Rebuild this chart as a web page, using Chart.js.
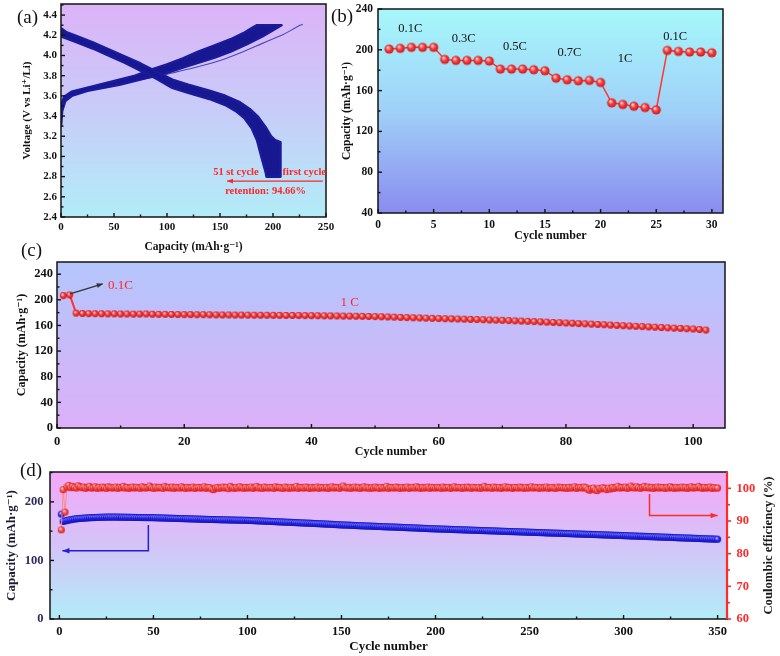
<!DOCTYPE html>
<html><head><meta charset="utf-8">
<script src="https://cdn.jsdelivr.net/npm/chart.js@4.4.0/dist/chart.umd.min.js"></script>
<style>
html,body{margin:0;padding:0;background:#fff;}
body{width:780px;height:656px;position:relative;overflow:hidden;}
canvas{position:absolute;}
.lbl{position:absolute;font-family:"Liberation Serif","Times New Roman",serif;font-size:19px;color:#111;line-height:1;}
</style></head><body>
<canvas id="ca" width="340" height="256" style="left:0;top:0"></canvas>
<canvas id="cb" width="450" height="256" style="left:330px;top:0"></canvas>
<canvas id="cc" width="780" height="206" style="left:0;top:256px"></canvas>
<canvas id="cd" width="780" height="194" style="left:0;top:462px"></canvas>
<div class="lbl" style="left:17px;top:7px">(a)</div>
<div class="lbl" style="left:331px;top:6px">(b)</div>
<div class="lbl" style="left:21px;top:240px">(c)</div>
<div class="lbl" style="left:20px;top:460px">(d)</div>
<script>
// ---------------- DATA ----------------
// (a) charge/discharge profiles: [capacity mAh/g, voltage V]
const dischargeFirstEdge = [[0,4.27],[5,4.23],[15,4.19],[30,4.13],[45,4.06],[60,3.99],[75,3.92],[90,3.84],[105,3.76],[120,3.71],[140,3.65],[155,3.60],[168,3.54],[178,3.47],[186,3.39],[193,3.29],[198,3.20],[202,3.16],[207,3.14],[207,2.80]];
const discharge51Edge = [[0,4.19],[5,4.17],[15,4.13],[30,4.07],[45,4.00],[60,3.93],[75,3.85],[90,3.77],[105,3.68],[120,3.63],[140,3.57],[155,3.51],[165,3.45],[173,3.38],[180,3.28],[185,3.16],[189,3.00],[193,2.85],[194,2.80]];
const chargeUpperEdge = [[0,3.42],[1,3.53],[3,3.59],[10,3.64],[25,3.68],[40,3.72],[55,3.76],[70,3.80],[85,3.86],[100,3.91],[115,3.97],[130,4.04],[145,4.10],[160,4.16],[172,4.22],[180,4.27],[185,4.30],[208,4.30]];
const chargeLowerEdge = [[0,3.30],[1,3.45],[4,3.55],[10,3.60],[25,3.65],[40,3.68],[55,3.71],[70,3.75],[85,3.79],[100,3.83],[115,3.88],[130,3.93],[145,3.98],[160,4.04],[175,4.11],[190,4.19],[200,4.25],[208,4.30]];
const chargeFirstCycle = [[0,3.30],[2,3.50],[5,3.57],[15,3.62],[30,3.66],[50,3.70],[70,3.75],[90,3.79],[110,3.84],[130,3.89],[150,3.95],[170,4.03],[190,4.12],[210,4.21],[222,4.28],[228,4.31]];
const aXTicks = [0,50,100,150,200,250];
const aYTicks = [2.4,2.6,2.8,3.0,3.2,3.4,3.6,3.8,4.0,4.2,4.4];

// (b) rate capability
const rateCycles = [1,2,3,4,5,6,7,8,9,10,11,12,13,14,15,16,17,18,19,20,21,22,23,24,25,26,27,28,29,30];
const rateCapacity = [200.7,201.4,202.4,202.4,202.4,190.6,189.6,189.6,189.6,189.0,181.1,181.1,181.1,180.4,179.4,172.2,170.6,169.6,170.0,168.0,148.0,146.4,144.7,143.4,141.1,199.4,198.4,197.8,197.8,197.1];
const rateLabels = ['0.1C','0.3C','0.5C','0.7C','1C','0.1C'];
const bXTicks = [0,5,10,15,20,25,30];
const bYTicks = [40,80,120,160,200,240];

// (c) cycling at 1C (102 cycles)
const cCapacity = [206.6,207.6,179.2,178.6,178.4,178.3,178.2,178.0,178.1,177.8,
177.8,177.6,177.7,177.9,177.4,177.3,177.3,177.1,177.0,176.9,
176.9,176.7,176.8,176.6,176.5,176.4,176.4,176.2,176.2,176.1,
176.0,175.9,175.9,175.8,175.7,175.6,175.6,175.5,175.4,175.3,
175.2,175.0,174.9,174.8,174.6,174.5,174.3,174.2,174.0,173.8,
173.5,173.2,172.9,172.6,172.3,172.0,171.7,171.4,171.1,170.8,
170.5,170.3,170.0,169.7,169.4,169.2,168.9,168.6,168.3,168.0,
167.6,167.2,166.8,166.4,166.0,165.6,165.1,164.7,164.3,163.8,
163.4,162.9,162.5,162.0,161.5,161.1,160.6,160.1,159.6,159.1,
158.6,158.2,157.7,157.2,156.8,156.3,155.8,155.4,154.9,154.4,
153.6,152.8];
const cCycles = Array.from({length: cCapacity.length}, (_, i) => i + 1);
const cXTicks = [0,20,40,60,80,100];
const cYTicks = [0,40,80,120,160,200,240];

// (d) long cycling, 350 cycles
const dCapacity = [179.0,166.5,167.5,168.2,169.0,169.6,170.2,170.7,171.1,171.5,
171.8,172.0,172.2,172.5,172.7,172.9,173.1,173.2,173.4,173.5,
173.6,173.7,173.8,173.9,174.0,174.0,174.1,174.0,174.1,174.0,
174.0,173.9,173.9,173.8,173.8,173.7,173.7,173.6,173.6,173.5,
173.5,173.4,173.4,173.3,173.3,173.2,173.2,173.1,173.1,173.0,
172.9,172.8,172.7,172.6,172.5,172.4,172.3,172.2,172.1,172.0,
171.9,171.8,171.7,171.6,171.5,171.4,171.3,171.2,171.1,171.0,
170.9,170.8,170.7,170.6,170.5,170.4,170.3,170.2,170.1,170.0,
169.9,169.8,169.8,169.7,169.6,169.5,169.4,169.4,169.3,169.2,
169.1,169.0,169.0,168.9,168.8,168.8,168.7,168.6,168.6,168.5,
168.3,168.2,168.0,167.9,167.7,167.6,167.4,167.3,167.1,167.0,
166.8,166.7,166.5,166.4,166.2,166.1,165.9,165.8,165.6,165.5,
165.3,165.2,165.0,164.9,164.7,164.6,164.4,164.3,164.1,164.0,
163.8,163.7,163.5,163.4,163.2,163.1,162.9,162.8,162.6,162.5,
162.3,162.1,161.9,161.8,161.6,161.4,161.2,161.1,160.9,160.7,
160.6,160.4,160.3,160.2,160.0,159.9,159.7,159.6,159.4,159.3,
159.2,159.0,158.9,158.8,158.6,158.5,158.4,158.3,158.1,158.0,
157.9,157.7,157.6,157.5,157.3,157.2,157.1,157.0,156.8,156.7,
156.6,156.4,156.3,156.2,156.0,155.9,155.8,155.6,155.5,155.3,
155.2,155.0,154.9,154.8,154.6,154.5,154.3,154.2,154.0,153.9,
153.8,153.7,153.6,153.5,153.4,153.3,153.2,153.0,152.9,152.8,
152.7,152.6,152.5,152.3,152.2,152.1,152.0,151.9,151.7,151.6,
151.5,151.4,151.3,151.2,151.1,151.0,150.9,150.7,150.6,150.5,
150.4,150.3,150.2,150.0,149.9,149.8,149.7,149.6,149.4,149.3,
149.2,149.1,149.0,148.9,148.8,148.7,148.6,148.4,148.3,148.2,
148.1,148.0,147.9,147.7,147.6,147.5,147.4,147.3,147.1,147.0,
146.9,146.8,146.7,146.6,146.5,146.4,146.3,146.1,146.0,145.9,
145.8,145.7,145.6,145.4,145.3,145.2,145.1,145.0,144.8,144.7,
144.6,144.5,144.4,144.3,144.2,144.1,144.0,143.8,143.7,143.6,
143.5,143.4,143.3,143.1,143.0,142.9,142.8,142.7,142.5,142.4,
142.3,142.2,142.0,141.9,141.8,141.7,141.6,141.4,141.3,141.2,
141.1,141.0,140.8,140.7,140.6,140.5,140.4,140.2,140.1,140.0,
139.9,139.7,139.6,139.5,139.4,139.2,139.1,139.0,138.8,138.7,
138.6,138.5,138.3,138.2,138.1,138.0,137.8,137.7,137.6,137.5,
137.4,137.2,137.1,137.0,136.9,136.7,136.6,136.5,136.3,136.2];
const dEfficiency = [87.3,99.6,92.7,100.4,100.9,100.2,100.6,100.3,100.1,100.8,
100.5,100.2,100.4,100.0,100.3,100.6,100.1,100.2,100.5,100.0,
100.3,100.1,100.4,100.2,100.0,100.5,100.3,100.1,100.2,100.4,
100.0,100.3,100.2,100.6,100.1,100.3,100.0,100.2,100.4,100.1,
100.3,100.2,100.0,100.5,100.2,100.1,100.3,100.7,100.2,100.0,
100.4,100.1,100.3,100.2,100.0,100.6,100.2,100.3,100.1,100.4,
100.0,100.3,100.2,100.1,100.5,100.2,100.0,100.3,100.1,100.2,
100.4,100.0,100.2,100.3,100.1,100.2,100.5,100.0,100.3,100.2,
99.8,99.6,100.1,100.3,100.0,100.2,100.4,100.1,100.3,99.9,
100.6,100.2,100.0,100.3,100.1,100.5,100.2,100.0,100.3,100.1,
100.2,100.4,100.0,100.3,100.6,100.1,100.2,100.0,100.4,100.2,
100.1,100.3,100.2,100.0,100.5,100.2,100.3,100.1,100.0,100.4,
100.2,100.0,100.3,100.1,100.2,100.6,100.0,100.3,100.2,100.1,
100.4,100.2,100.0,100.3,100.1,100.2,100.4,100.0,100.3,100.2,
100.1,100.3,100.0,100.2,100.5,100.1,100.3,100.2,100.0,100.4,
100.7,100.2,100.1,100.3,100.0,100.2,100.4,100.1,100.3,100.0,
100.2,100.5,100.1,100.3,100.0,100.2,100.1,100.4,100.2,100.0,
100.3,100.1,100.2,100.6,100.0,100.3,100.2,100.1,100.4,100.2,
100.0,100.3,100.1,100.2,100.4,100.0,100.2,100.3,100.1,100.5,
100.2,100.0,100.3,100.1,100.2,100.4,100.0,100.3,100.2,100.1,
100.3,100.2,100.0,100.4,100.1,100.2,100.3,100.0,100.2,100.5,
100.1,100.3,100.2,100.0,100.3,100.1,100.4,100.2,100.0,100.3,
100.2,100.1,100.3,100.0,100.2,100.6,100.1,100.3,100.2,100.0,
100.4,100.2,100.1,100.3,100.0,100.2,100.5,100.1,100.3,100.2,
100.0,100.3,100.2,100.1,100.4,100.2,100.0,100.3,100.1,100.2,
100.5,100.1,100.3,100.2,100.0,100.3,100.1,100.2,100.4,100.0,
100.2,100.3,100.1,100.0,100.4,100.2,100.3,100.1,100.2,100.0,
100.3,100.1,100.2,100.5,100.0,100.2,100.3,100.1,100.4,100.2,
99.7,99.4,99.9,100.1,99.5,99.3,100.0,99.8,100.2,100.0,
99.6,100.1,99.8,100.3,100.0,100.2,100.6,100.1,100.3,100.2,
100.4,100.0,100.2,100.7,100.3,100.1,100.5,100.2,100.0,100.3,
100.6,100.2,100.4,100.1,100.3,100.0,100.2,100.4,100.1,100.3,
100.2,100.0,100.3,100.1,100.5,100.2,100.0,100.3,100.1,100.2,
100.4,100.1,100.3,100.0,100.2,100.5,100.1,100.3,100.2,100.6,
100.2,100.0,100.3,100.1,100.2,100.4,100.0,100.2,100.1,100.1];
const dCycles = Array.from({length: dCapacity.length}, (_, i) => i + 1);
const dXTicks = [0,50,100,150,200,250,300,350];
const dYTicks = [0,100,200];
const dY2Ticks = [60,70,80,90,100];

// ---------------- RENDERING ----------------
const SERIF = '"Liberation Serif","Times New Roman","DejaVu Serif",serif';
Chart.defaults.font.family = SERIF;
Chart.defaults.animation = false;

const xy = arr => arr.map(p => ({x: p[0], y: p[1]}));
const zipXY = (xs, ys) => xs.map((x, i) => ({x, y: ys[i]}));

function ball(r, c0, c1, c2) {
  const s = Math.ceil(r * 2 + 2);
  const cv = document.createElement('canvas');
  cv.width = s; cv.height = s;
  const g = cv.getContext('2d');
  const c = s / 2;
  const gr = g.createRadialGradient(c - r * 0.35, c - r * 0.4, r * 0.05, c, c, r);
  gr.addColorStop(0, c0); gr.addColorStop(0.45, c1); gr.addColorStop(1, c2);
  g.fillStyle = gr; g.beginPath(); g.arc(c, c, r, 0, Math.PI * 2); g.fill();
  return cv;
}

function scaleCfg(o) {
  return {
    type: 'linear', min: o.min, max: o.max, position: o.position,
    grid: {display: false, drawTicks: false},
    border: {display: false},
    afterBuildTicks: s => { s.ticks = o.ticks.map(v => ({value: v})); },
    ticks: {
      autoSkip: false, maxRotation: 0, padding: o.tpad,
      font: {family: SERIF, weight: 'bold', size: o.tsize},
      color: o.tcolor || '#111',
      callback: o.fmt || (v => String(v))
    },
    title: o.title ? {
      display: true, text: o.title,
      font: {family: SERIF, weight: 'bold', size: o.titleSize},
      color: o.titleColor || '#111',
      padding: o.titlePad
    } : {display: false},
    afterFit: s => {
      if (s.isHorizontal()) s.height = o.size; else s.width = o.size;
      s.paddingLeft = s.paddingRight = s.paddingTop = s.paddingBottom = 0;
    }
  };
}

function drawAxisTicks(ctx, scale, t, a) {
  const vals = t.majors;
  const minors = [];
  for (let i = 0; i < vals.length - 1; i++) minors.push((vals[i] + vals[i + 1]) / 2);
  const step = vals[1] - vals[0];
  if (vals[vals.length - 1] + step / 2 < scale.max) minors.push(vals[vals.length - 1] + step / 2);
  ctx.save();
  ctx.strokeStyle = t.color || '#111';
  ctx.lineWidth = t.width || 1.4;
  const mk = (v, len) => {
    const p = scale.getPixelForValue(v);
    ctx.beginPath();
    if (t.side === 'bottom') { ctx.moveTo(p, a.bottom); ctx.lineTo(p, a.bottom - len); }
    else if (t.side === 'left') { ctx.moveTo(a.left, p); ctx.lineTo(a.left + len, p); }
    else if (t.side === 'right') { ctx.moveTo(a.right, p); ctx.lineTo(a.right + len, p); }
    ctx.stroke();
  };
  vals.forEach(v => mk(v, t.len || 4));
  minors.forEach(v => mk(v, t.minorLen || 2.5));
  ctx.restore();
}

function arrow(ctx, pts, color, w, head) {
  ctx.save();
  ctx.strokeStyle = color; ctx.fillStyle = color; ctx.lineWidth = w;
  ctx.beginPath();
  ctx.moveTo(pts[0][0], pts[0][1]);
  for (let i = 1; i < pts.length; i++) ctx.lineTo(pts[i][0], pts[i][1]);
  ctx.stroke();
  const [x1, y1] = pts[pts.length - 2], [x2, y2] = pts[pts.length - 1];
  const ang = Math.atan2(y2 - y1, x2 - x1);
  ctx.beginPath();
  ctx.moveTo(x2, y2);
  ctx.lineTo(x2 - head * Math.cos(ang) + head * 0.4 * Math.sin(ang), y2 - head * Math.sin(ang) - head * 0.4 * Math.cos(ang));
  ctx.lineTo(x2 - head * Math.cos(ang) - head * 0.4 * Math.sin(ang), y2 - head * Math.sin(ang) + head * 0.4 * Math.cos(ang));
  ctx.closePath(); ctx.fill();
  ctx.restore();
}

function panelPlugin(cfg) {
  return {
    id: 'panel' + cfg.name,
    beforeDatasetsDraw(chart) {
      const {ctx, chartArea: a} = chart;
      const g = ctx.createLinearGradient(0, a.top, 0, a.bottom);
      cfg.bg.forEach(([o, c]) => g.addColorStop(o, c));
      ctx.save(); ctx.fillStyle = g;
      ctx.fillRect(a.left, a.top, a.right - a.left, a.bottom - a.top);
      ctx.restore();
    },
    afterDatasetsDraw(chart) {
      const {ctx, chartArea: a} = chart;
      cfg.ticks.forEach(t => drawAxisTicks(ctx, chart.scales[t.id], t, a));
      ctx.save();
      ctx.lineWidth = 1.5; ctx.strokeStyle = '#151515';
      ctx.strokeRect(a.left, a.top, a.right - a.left, a.bottom - a.top);
      ctx.restore();
      if (cfg.extra) cfg.extra(chart, ctx, a);
    }
  };
}

const baseOpts = (padding, scales) => ({
  responsive: false, animation: false, events: [],
  layout: {padding},
  plugins: {legend: {display: false}, tooltip: {enabled: false}},
  scales
});

// ---------- (a) ----------
const bandColor = '#17178f';
new Chart(document.getElementById('ca'), {
  type: 'line',
  data: {datasets: [
    {data: xy(dischargeFirstEdge.concat(discharge51Edge.slice().reverse())), fill: 'shape', backgroundColor: bandColor, borderColor: '#1a1a9c', borderWidth: 2.6, borderJoinStyle: 'round', pointRadius: 0, tension: 0},
    {data: xy(chargeUpperEdge.concat(chargeLowerEdge.slice().reverse())), fill: 'shape', backgroundColor: bandColor, borderColor: '#1a1a9c', borderWidth: 2.6, borderJoinStyle: 'round', pointRadius: 0, tension: 0},
    {data: xy(chargeFirstCycle), fill: false, borderColor: '#4646c4', borderWidth: 1.1, pointRadius: 0, tension: 0.3}
  ]},
  options: baseOpts({left: 0, top: 4, right: 14, bottom: 0}, {
    x: scaleCfg({min: 0, max: 250, position: 'bottom', ticks: aXTicks, tpad: 4, tsize: 11, size: 39,
      title: 'Capacity (mAh\u00b7g\u207b\u00b9)', titleSize: 11.5, titlePad: {top: 0, bottom: 2}}),
    y: scaleCfg({min: 2.4, max: 4.51, position: 'left', ticks: aYTicks, tpad: 4, tsize: 11, size: 61,
      fmt: v => v.toFixed(1),
      title: 'Voltage (V vs Li\u207a/Li)', titleSize: 11, titlePad: {top: 21, bottom: 0}})
  }),
  plugins: [panelPlugin({
    name: 'a',
    bg: [[0, '#dcb3f8'], [0.5, '#c8ccf8'], [1, '#b2ecf8']],
    ticks: [{id: 'x', side: 'bottom', majors: aXTicks}, {id: 'y', side: 'left', majors: aYTicks}],
    extra(chart, ctx) {
      const X = chart.scales.x, Y = chart.scales.y;
      ctx.save();
      ctx.fillStyle = '#ff2626';
      ctx.font = 'bold 10.5px ' + SERIF;
      ctx.textAlign = 'center'; ctx.textBaseline = 'middle';
      ctx.fillText('51 st cycle', X.getPixelForValue(165), Y.getPixelForValue(2.845));
      ctx.fillText('first cycle', X.getPixelForValue(229.5), Y.getPixelForValue(2.845));
      ctx.fillText('retention: 94.66%', X.getPixelForValue(193), Y.getPixelForValue(2.657));
      ctx.restore();
      arrow(ctx, [[X.getPixelForValue(247), Y.getPixelForValue(2.756)], [X.getPixelForValue(156.6), Y.getPixelForValue(2.756)]], '#ff2626', 1.2, 6);
    }
  })]
});

// ---------- (b) ----------
const redBallB = ball(4.6, '#fff0f0', '#ff4545', '#c81414');
const rateLabelPos = [[2.9, 220.4], [7.7, 210.5], [12.3, 202.7], [17.2, 196.8], [22.2, 190.9], [26.7, 212.5]];
new Chart(document.getElementById('cb'), {
  type: 'line',
  data: {datasets: [
    {data: zipXY(rateCycles, rateCapacity), borderColor: '#ff3535', borderWidth: 1.5, pointStyle: redBallB, pointRadius: 4.6, tension: 0, fill: false}
  ]},
  options: baseOpts({left: 0, top: 9, right: 57, bottom: 0}, {
    x: scaleCfg({min: 0, max: 31, position: 'bottom', ticks: bXTicks, tpad: 5, tsize: 11.5, size: 43,
      title: 'Cycle number', titleSize: 12, titlePad: {top: 0, bottom: 12.5}}),
    y: scaleCfg({min: 40, max: 240, position: 'left', ticks: bYTicks, tpad: 5, tsize: 11.5, size: 48,
      title: 'Capacity (mAh\u00b7g\u207b\u00b9)', titleSize: 11.5, titlePad: {top: 10, bottom: 0}})
  }),
  plugins: [panelPlugin({
    name: 'b',
    bg: [[0, '#a6f8fb'], [0.5, '#a0d0f8'], [1, '#8a8cf0']],
    ticks: [{id: 'x', side: 'bottom', majors: bXTicks}, {id: 'y', side: 'left', majors: bYTicks}],
    extra(chart, ctx) {
      const X = chart.scales.x, Y = chart.scales.y;
      ctx.save();
      ctx.fillStyle = '#111';
      ctx.font = '12.5px ' + SERIF;
      ctx.textAlign = 'center'; ctx.textBaseline = 'middle';
      rateLabels.forEach((t, i) => ctx.fillText(t, X.getPixelForValue(rateLabelPos[i][0]), Y.getPixelForValue(rateLabelPos[i][1])));
      ctx.restore();
    }
  })]
});

// ---------- (c) ----------
const redBallC = ball(3.4, '#fff0f0', '#ff4545', '#c81414');
new Chart(document.getElementById('cc'), {
  type: 'line',
  data: {datasets: [
    {data: zipXY(cCycles, cCapacity), borderColor: '#ff3030', borderWidth: 2, pointStyle: redBallC, pointRadius: 3.4, tension: 0, fill: false}
  ]},
  options: baseOpts({left: 0, top: 6, right: 55, bottom: 0}, {
    x: scaleCfg({min: 0, max: 105, position: 'bottom', ticks: cXTicks, tpad: 6, tsize: 12.5, size: 34,
      title: 'Cycle number', titleSize: 12, titlePad: {top: 0, bottom: 3}}),
    y: scaleCfg({min: 0, max: 259, position: 'left', ticks: cYTicks, tpad: 4, tsize: 12.5, size: 57,
      title: 'Capacity (mAh\u00b7g\u207b\u00b9)', titleSize: 12, titlePad: {top: 15, bottom: 0}})
  }),
  plugins: [panelPlugin({
    name: 'c',
    bg: [[0, '#b4c6fc'], [1, '#dcb0f8']],
    ticks: [{id: 'x', side: 'bottom', majors: cXTicks}, {id: 'y', side: 'left', majors: cYTicks}],
    extra(chart, ctx) {
      const X = chart.scales.x, Y = chart.scales.y;
      arrow(ctx, [[X.getPixelForValue(2.04), Y.getPixelForValue(209.2)], [X.getPixelForValue(7.2), Y.getPixelForValue(224.9)]], '#333', 1.2, 6);
      ctx.save();
      ctx.fillStyle = '#ff2626';
      ctx.font = '13px ' + SERIF;
      ctx.textBaseline = 'middle';
      ctx.textAlign = 'left';
      ctx.fillText('0.1C', X.getPixelForValue(8.0), Y.getPixelForValue(221.7));
      ctx.textAlign = 'center';
      ctx.fillText('1 C', X.getPixelForValue(46), Y.getPixelForValue(195));
      ctx.restore();
    }
  })]
});

// ---------- (d) ----------
const blueBall = ball(3.5, '#e6e6ff', '#3434ff', '#1010b4');
const redBallD = ball(3.5, '#fff2f2', '#ff5a5a', '#d41a1a');
new Chart(document.getElementById('cd'), {
  type: 'line',
  data: {datasets: [
    {data: zipXY(dCycles, dEfficiency), yAxisID: 'y2', borderColor: '#ff8a8a', borderWidth: 1, pointStyle: redBallD, pointRadius: 3.5, tension: 0, fill: false},
    {data: zipXY(dCycles, dCapacity), yAxisID: 'y', borderColor: '#2a2ad0', borderWidth: 1, pointStyle: blueBall, pointRadius: 3.5, tension: 0, fill: false}
  ]},
  options: baseOpts({left: 0, top: 10, right: 0, bottom: 0}, {
    x: scaleCfg({min: -5, max: 355, position: 'bottom', ticks: dXTicks, tpad: 5.5, tsize: 12.5, size: 37,
      title: 'Cycle number', titleSize: 13, titlePad: {top: 0, bottom: 1.5}}),
    y: scaleCfg({min: 0, max: 251, position: 'left', ticks: dYTicks, tpad: 6.5, tsize: 12.5, size: 50, tcolor: '#2c2c5c',
      title: 'Capacity (mAh\u00b7g\u207b\u00b9)', titleSize: 13, titleColor: '#1c1c36', titlePad: {top: 4, bottom: 0}}),
    y2: scaleCfg({min: 60, max: 105, position: 'right', ticks: dY2Ticks, tpad: 9.5, tsize: 12.5, size: 53, tcolor: '#ff2a2a'})
  }),
  plugins: [panelPlugin({
    name: 'd',
    bg: [[0, '#f4a6f8'], [0.5, '#d4c4f8'], [1, '#b2ecf8']],
    ticks: [{id: 'x', side: 'bottom', majors: dXTicks}, {id: 'y', side: 'left', majors: dYTicks},
            {id: 'y2', side: 'right', majors: dY2Ticks, color: '#ff2a2a', width: 1.6, len: 4, minorLen: 3}],
    extra(chart, ctx, a) {
      const X = chart.scales.x, Y = chart.scales.y;
      ctx.save();
      ctx.strokeStyle = '#ff2a2a'; ctx.lineWidth = 2.2;
      ctx.beginPath(); ctx.moveTo(a.right, a.top); ctx.lineTo(a.right, a.bottom); ctx.stroke();
      ctx.restore();
      arrow(ctx, [[X.getPixelForValue(47.3), Y.getPixelForValue(160.7)], [X.getPixelForValue(47.3), Y.getPixelForValue(116.6)], [X.getPixelForValue(1.6), Y.getPixelForValue(116.6)]], '#2020d4', 1.5, 7);
      arrow(ctx, [[X.getPixelForValue(313.8), Y.getPixelForValue(213.4)], [X.getPixelForValue(313.8), Y.getPixelForValue(176.7)], [X.getPixelForValue(350), Y.getPixelForValue(176.7)]], '#ff2a2a', 1.5, 7);
      ctx.save();
      ctx.translate(768.3, (a.top + a.bottom) / 2);
      ctx.rotate(-Math.PI / 2);
      ctx.fillStyle = '#1a1a1a';
      ctx.font = 'bold 12.7px ' + SERIF;
      ctx.textAlign = 'center'; ctx.textBaseline = 'middle';
      ctx.fillText('Coulombic efficiency (%)', 0, 0);
      ctx.restore();
    }
  })]
});
</script>
</body></html>
